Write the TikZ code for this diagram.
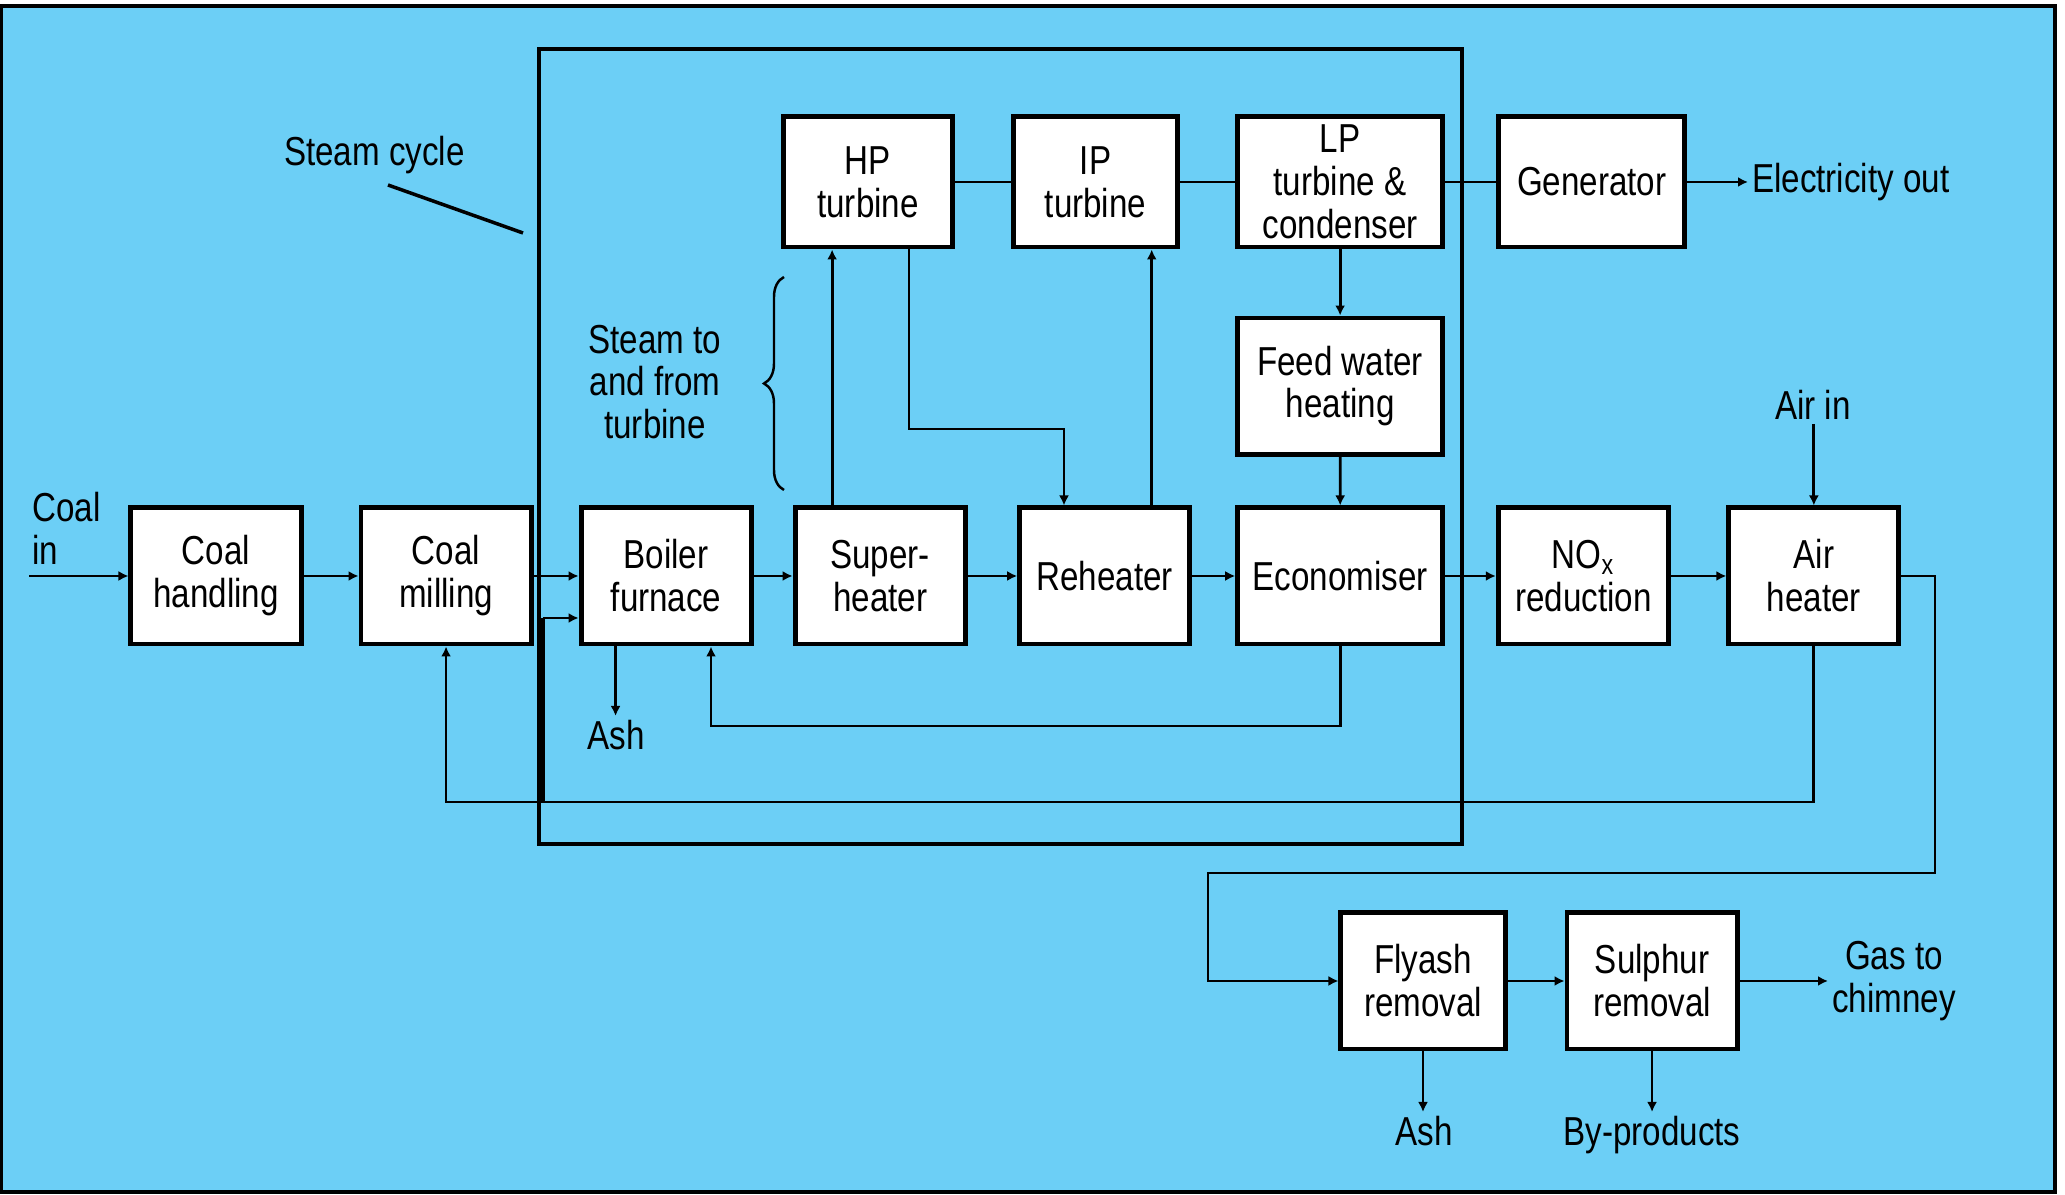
\documentclass[tikz,border=0pt]{standalone}
\usepackage{fontspec}
\setmainfont{Liberation Sans}[FakeStretch=0.82]
\usetikzlibrary{arrows.meta, positioning, decorations.pathreplacing}
\definecolor{cieloFondo}{HTML}{6CCFF6}

\begin{document}
\begin{tikzpicture}[x=0.01cm, y=-0.01cm,
        blq/.style={draw, fill=white, line width=1.4pt, minimum width=1.70cm, minimum height=1.36cm,
            inner sep=1pt, align=center, font=\fontsize{11.5}{12.2}\selectfont},
        blqt/.style={blq, minimum height=1.30cm},
        etq/.style={align=center, inner sep=1pt, font=\fontsize{11.5}{12.2}\selectfont},
        flu/.style={-{Latex[length=1mm,width=1mm]}, line width=0.8pt},
        lin/.style={line width=0.8pt}
    ]
        \useasboundingbox (0,0) rectangle (2065,1195);
        \draw[fill=cieloFondo, line width=1.2pt] (1,6) rectangle (2055,1192);

        % steam cycle frame
        \node[draw, line width=1.1pt, minimum width=9.23cm, minimum height=7.95cm, inner sep=0pt] (ciclovap) at (1000.5,446.5) {};

        % main gas/coal row
        \node[blq] (cman) at (216,576) {Coal\\handling};
        \node[blq, right=0.55cm of cman] (cmol) {Coal\\milling};
        \node[blq, right=0.45cm of cmol] (cald) {Boiler\\furnace};
        \node[blq, right=0.39cm of cald] (sobre) {Super-\\heater};
        \node[blq, right=0.495cm of sobre] (recal) {Reheater};
        \node[blq, minimum width=2.05cm, right=0.43cm of recal] (econ) {Economiser};
        \node[blq, right=0.505cm of econ] (nox) {NO\textsubscript{x}\\reduction};
        \node[blq, right=0.555cm of nox] (aire) {Air\\heater};

        % turbines
        \node[blqt, minimum width=1.69cm] (hp) at (868,182) {HP\\turbine};
        \node[blqt, minimum width=1.64cm, right=0.56cm of hp] (ip) {IP\\turbine};
        \node[blqt, minimum width=2.05cm, inner ysep=0pt, right=0.55cm of ip] (lp) {LP\\turbine \&\\condenser};
        \node[blqt, minimum width=1.86cm, right=0.51cm of lp] (gen) {Generator};
        \node[blq, minimum width=2.05cm, below=0.66cm of lp] (agua) {Feed water\\heating};

        % flue gas cleaning
        \node[blq, minimum width=1.64cm] (ceniza) at (1423,981) {Flyash\\removal};
        \node[blq, right=0.57cm of ceniza] (azufre) {Sulphur\\removal};

        % labels
        \node[etq, anchor=west, align=left] (carbon) at (28,528) {Coal\\in};
        \node[etq, anchor=west] (ciclo) at (280,155) {Steam cycle};
        \node[etq] (vapor) at (655,382) {Steam to\\and from\\turbine};
        \node[etq, anchor=north] (ash1) at (616,716) {Ash};
        \node[etq, anchor=north] (ash2) at (1424,1112) {Ash};
        \node[etq, anchor=north] (subp) at (1652,1112) {By-products};
        \node[etq, anchor=south] (airin) at (1813,424) {Air in};
        \node[etq, anchor=west] (elec) at (1748,182) {Electricity out};
        \node[etq, anchor=west] (gas) at (1828,981) {Gas to\\chimney};

        \coordinate (ptrini) at (388,185);
        \coordinate (punta) at (523,233);
        \draw[line width=1pt] (ptrini) -- (punta);
        \draw[decorate, decoration={brace, amplitude=2mm}, line width=0.7pt] (784,490) -- (784,277);

        % coal and flue gas path
        \coordinate (entrada) at (29,576);
        \draw[flu] (entrada) -- (cman.west);
        \draw[flu] (cman) -- (cmol);
        \draw[flu] (cmol) -- (cald);
        \draw[flu] (cald) -- (sobre);
        \draw[flu] (sobre) -- (recal);
        \draw[flu] (recal) -- (econ);
        \draw[flu] (econ) -- (nox);
        \draw[flu] (nox) -- (aire);
        \coordinate (g1) at (1935,873);
        \coordinate (g2) at (1208,873);
        \draw[flu] (aire.east) -| (g1) -- (g2) |- (ceniza.west);
        \draw[flu] (ceniza) -- (azufre);
        \draw[flu] (azufre.east) -- (gas.west);
        \draw[flu] (ceniza.south) -- (ceniza.south |- ash2.north);
        \draw[flu] (azufre.south) -- (azufre.south |- subp.north);

        % air
        \draw[flu] (airin.south -| aire.north) -- (aire.north);
        \coordinate (aj) at (543,802);
        \coordinate (ak) at (543,618);
        \draw[flu] (aire.south) |- (aj) -| (cmol.south);
        \draw[line width=1.4pt] (aj) -- (ak);
        \draw[flu] (ak) -- (ak -| cald.west);

        % ash from boiler
        \coordinate (a1) at ([xshift=-0.505cm]cald.south);
        \draw[flu] (a1) -- (a1 |- ash1.north);

        % steam and water
        \coordinate (s1) at ([xshift=-0.48cm]sobre.north);
        \draw[flu] (s1) -- (s1 |- hp.south);
        \coordinate (h1) at ([xshift=0.41cm]hp.south);
        \coordinate (hr) at (1064,429);
        \draw[flu] (h1) |- (hr) -- (hr |- recal.north);
        \coordinate (r2) at ([xshift=0.47cm]recal.north);
        \draw[flu] (r2) -- (r2 |- ip.south);
        \draw[lin] (hp) -- (ip);
        \draw[lin] (ip) -- (lp);
        \draw[lin] (lp) -- (gen);
        \draw[flu] (gen.east) -- (gen.east -| elec.west);
        \draw[flu] (lp) -- (agua);
        \draw[flu] (agua) -- (econ);
        \coordinate (fw) at (711,726);
        \draw[flu] (econ.south) |- (fw) -- (fw |- cald.south);
    \end{tikzpicture}
\end{document}
